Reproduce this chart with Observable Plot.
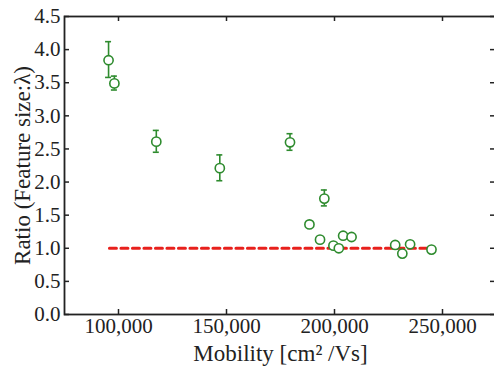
<!DOCTYPE html>
<html>
<head>
<meta charset="utf-8">
<script src="https://cdn.jsdelivr.net/npm/d3@7"></script>
<script src="https://cdn.jsdelivr.net/npm/@observablehq/plot@0.6"></script>
<style>
  html, body { margin: 0; padding: 0; background: #fff; overflow: hidden; width: 494px; height: 370px; }
  #chart { width: 494px; height: 370px; overflow: hidden; }
  #chart svg { display: block; max-width: none !important; width: 500px !important; height: 370px !important; }
</style>
</head>
<body>
<div id="chart"></div>
<script>
// Data
const mobility = [95400, 98100, 117500, 146900, 179400, 195300, 188400, 193300, 199500, 202000, 204000, 207900, 228100, 231400, 235000, 244900];
const ratio    = [3.84, 3.49, 2.61, 2.21, 2.60, 1.75, 1.36, 1.13, 1.04, 1.00, 1.19, 1.17, 1.05, 0.92, 1.06, 0.98];
const errLow   = [3.58, 3.39, 2.45, 2.02, 2.48, 1.64, null, null, null, null, null, null, null, null, null, null];
const errHigh  = [4.12, 3.60, 2.78, 2.41, 2.73, 1.88, null, null, null, null, null, null, null, null, null, null];
const refLineX = [95800, 243300];
const refLineY = 1.0;
const xTicks = [100000, 150000, 200000, 250000];
const yTicks = [0, 0.5, 1.0, 1.5, 2.0, 2.5, 3.0, 3.5, 4.0, 4.5];
const xDomain = [75000, 275000];
const yDomain = [0, 4.5];

const points = mobility.map((m, i) => ({x: m, y: ratio[i], lo: errLow[i], hi: errHigh[i]}));
const bars = points.filter(d => d.lo != null);
const refLine = refLineX.map(x => ({x, y: refLineY}));

const green = "#2e8b2e";
const font = "'Liberation Serif', 'DejaVu Serif', serif";

const chart = Plot.plot({
  width: 500,
  height: 370,
  marginLeft: 64,
  marginRight: 4,
  marginTop: 16,
  marginBottom: 56,
  style: {fontFamily: font, fontSize: "21px", color: "#222", background: "#fff"},
  x: {domain: xDomain},
  y: {domain: yDomain},
  marks: [
    // reference line
    Plot.line(refLine, {x: "x", y: "y", stroke: "#e8201c", strokeWidth: 3, strokeDasharray: "7,4.5"}),
    // error bars
    Plot.ruleX(bars, {x: "x", y1: "lo", y2: "hi", stroke: green, strokeWidth: 1.6}),
    Plot.ruleY(bars, {y: "lo", x1: "x", x2: "x", insetLeft: -3, insetRight: -3, stroke: green, strokeWidth: 1.6}),
    Plot.ruleY(bars, {y: "hi", x1: "x", x2: "x", insetLeft: -3, insetRight: -3, stroke: green, strokeWidth: 1.6}),
    // points
    Plot.dot(points, {x: "x", y: "y", r: 4.6, stroke: green, strokeWidth: 1.6, fill: "white"}),
    // inward ticks
    Plot.ruleX(xTicks, {x: d => d, y1: () => yDomain[0], y2: () => yDomain[0], insetTop: -5, stroke: "#222", strokeWidth: 1.5}),
    Plot.ruleX(xTicks, {x: d => d, y1: () => yDomain[1], y2: () => yDomain[1], insetBottom: -5, stroke: "#222", strokeWidth: 1.5}),
    Plot.ruleY(yTicks, {y: d => d, x1: () => xDomain[0], x2: () => xDomain[0], insetRight: -5, stroke: "#222", strokeWidth: 1.5}),
    Plot.ruleY(yTicks, {y: d => d, x1: () => xDomain[1], x2: () => xDomain[1], insetLeft: -6, stroke: "#222", strokeWidth: 1.5}),
    Plot.frame({stroke: "#222", strokeWidth: 1.8}),
    Plot.axisX(xTicks, {tickSize: 0, tickPadding: 4, tickFormat: d3.format(","), label: null, fill: "#222", fontSize: 21}),
    Plot.axisY(yTicks, {tickSize: 0, tickPadding: 4, tickFormat: d3.format(".1f"), label: null, fill: "#222", fontSize: 21}),
    Plot.text(["Mobility [cm² /Vs]"], {frameAnchor: "bottom", dy: 39, text: d => d, fontSize: 23, fill: "#222", lineAnchor: "middle"}),
    Plot.text(["Ratio (Feature size:λ)"], {frameAnchor: "left", dx: -42, rotate: -90, textAnchor: "middle", text: d => d, fontSize: 23, fill: "#222"})
  ]
});
document.getElementById("chart").appendChild(chart);
</script>
</body>
</html>
